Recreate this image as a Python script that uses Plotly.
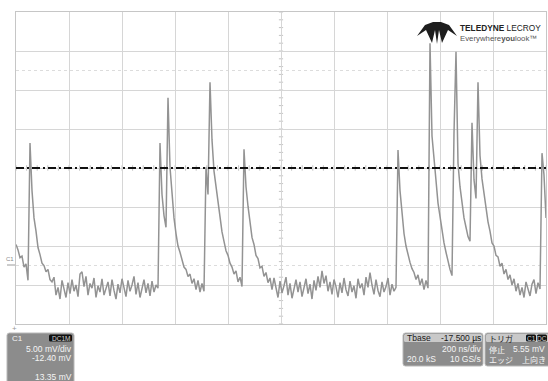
import plotly.graph_objects as go

# ---------------- data ----------------
mv_per_div = 5.00            # vertical scale
offset_mv = -12.40           # channel offset -> screen centre = +12.40 mV
ns_per_div = 200             # horizontal scale
t_start_ns = -1000.0         # left edge of screen (relative to Tbase)
t_stop_ns = 1000.0           # right edge of screen
trigger_line_mv = 12.40      # dash-dot trigger marker drawn at screen centre

# decimated trace samples (mV), evenly spaced from t_start_ns to t_stop_ns
seg_a_mv = [2.6, 1.9, 0.9, 1.1, -0.3, 0.1, -2.0, 15.6, 9.5, 6.0, 4.3, 2.2, 1.3,
            0.2, -0.1, -0.9, -0.6, -1.9, -2.2]
seg_base1_mv = [-1.6, -3.9, -2.9, -4.4, -2.0, -3.1, -4.2, -2.3, -3.7, -1.9,
                -3.4, -2.6, -4.1, -1.2, -0.9, -2.8, -1.5, -3.9, -2.4, -3.0,
                -1.7, -4.2, -2.7, -3.5, -1.8, -3.9, -3.1, -2.2, -4.0, -1.9,
                -3.3, -4.4, -2.5, -3.6, -1.8, -2.9, -4.1, -2.0, -3.4, -2.6,
                -1.5, -3.8, -2.3, -4.2, -3.0, -1.9, -3.6, -2.4, -4.0, -2.1,
                -3.5, -2.6]
seg_b_mv = [-3.0, 15.6, 9.0, 6.3, 4.8, 21.4, 12.5, 8.5, 6.0, 4.0,
            2.4, 1.6, 0.8, -0.3, -0.6, -1.5, -1.2, -2.4, -1.8, -3.2,
            -2.0, -3.5, -2.4, -3.4, 12.5, 9.0, 23.4, 16.0, 12.0, 10.0,
            7.6, 5.8, 4.2, 3.0, 1.8, 1.2, 0.2, -0.3, -1.2, -0.8,
            -2.2, -1.6, -2.8, 14.8, 10.0, 7.5, 5.2, 3.5, 2.6, 1.2,
            0.8, -0.4, -0.2, -1.5, -1.0, -2.3, -1.7]
seg_base2_mv = [-3.2, -1.7, -3.0, -4.2, -2.1, -3.6, -2.7, -1.6, -3.9, -2.4,
                -4.3, -3.1, -1.9, -3.5, -2.2, -4.1, -2.8, -1.8, -3.7, -2.5,
                -4.4, -2.0, -3.3, -1.5, -2.9, -0.8, -2.4, -1.4, -3.4, -2.2,
                -3.8, -1.9, -2.8, -4.2, -2.3, -3.6, -1.7, -3.2, -4.0, -2.1,
                -3.5, -2.7, -4.3, -1.8, -3.0, -2.4, -3.9, -1.6, -2.9, -1.0,
                -2.6, -3.8, -1.9, -3.3, -4.1, -2.2, -3.5, -2.8, -1.7, -3.9,
                -2.5, -3.4, -2.9]
seg_c_mv = [14.7, 9.5, 6.2, 4.0, 2.4, 1.2, 0.3, -0.5, -1.0, -1.9,
            -1.3, -2.6, -1.8, -3.2, -2.0, -3.0, 28.4, 16.5, 13.0, 10.8,
            7.9, 6.0, 4.0, 2.8, 1.6, 0.4, -0.6, -1.4, 16.9, 27.3,
            13.0, 10.0, 7.9, 6.0, 4.8, 3.6, 3.0, 18.2, 10.9, 8.5,
            23.4, 14.0, 11.0, 9.0, 7.0, 5.5, 4.3, 2.8, 2.4, 1.2,
            1.0, -0.2, 0.2, -1.2, -0.6, -1.9, -1.3, -2.6, -1.8, -3.4,
            -2.4, -3.9, -2.9, -4.2, -2.2, -3.1, -4.0, -2.5, -1.9, -3.7,
            -2.3, -3.1, 14.3, 11.5, 6.0]

# info-box texts
ch_label = "C1"
ch_coupling = "DC1M"
ch_scale_txt = "5.00 mV/div"
ch_offset_txt = "-12.40 mV"
ch_meas_txt = "13.35 mV"
tb_label = "Tbase"
tb_delay_txt = "-17.500 µs"
tb_scale_txt = "200 ns/div"
tb_points_txt = "20.0 kS"
tb_rate_txt = "10 GS/s"
trig_label = "トリガ"
trig_src = "C1"
trig_cpl = "DC"
trig_mode = "停止"
trig_level_txt = "5.55 mV"
trig_type = "エッジ"
trig_slope = "上向き"

# ---------------- build ----------------
trace_mv = seg_a_mv + seg_base1_mv + seg_b_mv + seg_base2_mv + seg_c_mv
n = len(trace_mv)
dt = (t_stop_ns - t_start_ns) / (n - 1)
t_ns = [t_start_ns + i * dt for i in range(n)]

centre_mv = -offset_mv
y_lo = centre_mv - 4 * mv_per_div
y_hi = centre_mv + 4 * mv_per_div

W, H = 548, 381
L, R, T, B = 16, 2, 12, 57
PW, PH = W - L - R, H - T - B


def X(px):
    return (px - L) / PW


def Y(py):
    return (H - B - py) / PH


def rrect(x0, y0, x1, y1, r=2.5):
    rx, ry = r, r
    pts = (f"M {X(x0 + rx)},{Y(y0)} L {X(x1 - rx)},{Y(y0)} "
           f"Q {X(x1)},{Y(y0)} {X(x1)},{Y(y0 + ry)} L {X(x1)},{Y(y1 - ry)} "
           f"Q {X(x1)},{Y(y1)} {X(x1 - rx)},{Y(y1)} L {X(x0 + rx)},{Y(y1)} "
           f"Q {X(x0)},{Y(y1)} {X(x0)},{Y(y1 - ry)} L {X(x0)},{Y(y0 + ry)} "
           f"Q {X(x0)},{Y(y0)} {X(x0 + rx)},{Y(y0)} Z")
    return pts


def poly(points):
    s = "M " + " L ".join(f"{X(a)},{Y(b)}" for a, b in points) + " Z"
    return s


fig = go.Figure()
fig.add_trace(go.Scatter(x=t_ns, y=trace_mv, mode="lines",
                         line=dict(color="#939393", width=1.5),
                         hoverinfo="skip", showlegend=False))

shapes = []
# half-division dotted reference lines
for k in (-2.5, 2.5):
    shapes.append(dict(type="line", xref="x", yref="y", x0=t_start_ns, x1=t_stop_ns,
                       y0=centre_mv + k * mv_per_div, y1=centre_mv + k * mv_per_div,
                       line=dict(color="#dcdcdc", width=1, dash="dot"), layer="below"))
# centre-line minor ticks
for k in range(-20, 21):
    yv = centre_mv + k * mv_per_div / 5
    shapes.append(dict(type="line", xref="x", yref="y", x0=-8, x1=8, y0=yv, y1=yv,
                       line=dict(color="#c4c4c4", width=1), layer="below"))
for k in range(-25, 26):
    xv = k * ns_per_div / 5
    shapes.append(dict(type="line", xref="x", yref="y", x0=xv, x1=xv,
                       y0=centre_mv - 0.35, y1=centre_mv + 0.35,
                       line=dict(color="#c4c4c4", width=1), layer="below"))
# trigger marker line
shapes.append(dict(type="line", xref="x", yref="y", x0=t_start_ns, x1=t_stop_ns,
                   y0=trigger_line_mv, y1=trigger_line_mv,
                   line=dict(color="#111111", width=2, dash="8px,3px,2px,3px")))

# ground marker on left
shapes.append(dict(type="line", xref="paper", yref="paper", x0=X(7), x1=X(15),
                   y0=Y(265), y1=Y(265), line=dict(color="#9a9a9a", width=1)))

# logo glyph
logo_pts = [(417, 36), (425, 25), (433, 22), (441, 22), (449, 25), (457, 36),
            (448, 30), (442, 43), (439, 30), (437, 44), (435, 30), (432, 43), (426, 30)]
shapes.append(dict(type="path", xref="paper", yref="paper", path=poly(logo_pts),
                   fillcolor="#1e1e1e", line=dict(width=0)))

# info boxes
GRAY = "#8c8c8c"
LIGHT = "#c9c9c9"
EDGE = "#b8b8b8"
shapes.append(dict(type="path", xref="paper", yref="paper", path=rrect(7, 333, 74, 390),
                   fillcolor=GRAY, line=dict(color=EDGE, width=1)))
shapes.append(dict(type="path", xref="paper", yref="paper", path=rrect(49, 334.5, 72, 341.5, 1.5),
                   fillcolor="#101010", line=dict(width=0)))
shapes.append(dict(type="path", xref="paper", yref="paper", path=rrect(403, 333, 483, 366),
                   fillcolor=GRAY, line=dict(color=EDGE, width=1)))
shapes.append(dict(type="path", xref="paper", yref="paper", path=rrect(404, 334, 482, 342, 1.5),
                   fillcolor=LIGHT, line=dict(width=0)))
shapes.append(dict(type="path", xref="paper", yref="paper", path=rrect(485, 333, 551, 366),
                   fillcolor=GRAY, line=dict(color=EDGE, width=1)))
shapes.append(dict(type="path", xref="paper", yref="paper", path=rrect(486, 334, 550, 342, 1.5),
                   fillcolor=LIGHT, line=dict(width=0)))
shapes.append(dict(type="path", xref="paper", yref="paper", path=rrect(526, 334.5, 536, 341.5, 1.5),
                   fillcolor="#101010", line=dict(width=0)))
shapes.append(dict(type="path", xref="paper", yref="paper", path=rrect(537, 334.5, 547, 341.5, 1.5),
                   fillcolor="#101010", line=dict(width=0)))

SANS = "Liberation Sans, Arial, sans-serif"
CJK = "Noto Sans CJK JP, sans-serif"
ann = []


def txt(s, px, py, anchor="left", size=8.5, color="#f4f4f4", family=SANS):
    ann.append(dict(text=s, x=X(px), y=Y(py), xref="paper", yref="paper",
                    xanchor=anchor, yanchor="middle", showarrow=False,
                    font=dict(size=size, color=color, family=family)))


# left box
txt(ch_label, 10, 338, size=8)
txt(ch_coupling, 60.5, 338, anchor="center", size=6.5, color="#d6d6d6")
txt(ch_scale_txt, 74, 349, anchor="right")
txt(ch_offset_txt, 74, 358, anchor="right")
txt(ch_meas_txt, 74, 377, anchor="right")
# timebase box
txt(tb_label, 405, 338, color="#1a1a1a")
txt(tb_delay_txt, 483, 338, anchor="right", color="#1a1a1a")
txt(tb_scale_txt, 483, 349, anchor="right")
txt(tb_points_txt, 405, 359)
txt(tb_rate_txt, 483, 359, anchor="right")
# trigger box
txt(trig_label, 487, 338, size=8, color="#1a1a1a", family=CJK)
txt(trig_src, 531, 338, anchor="center", size=6.5, color="#d6d6d6")
txt(trig_cpl, 542, 338, anchor="center", size=6.5, color="#d6d6d6")
txt(trig_mode, 487, 349, size=8, family=CJK)
txt(trig_level_txt, 547, 349, anchor="right")
txt(trig_type, 487, 359, size=8, family=CJK)
txt(trig_slope, 548, 359, anchor="right", size=8, family=CJK)
# logo text
txt("<b>TELEDYNE</b> LECROY", 458, 28, size=8.3, color="#222222")
txt("Everywhere<b>you</b>look™", 458, 38, size=7.8, color="#555555")
# channel & time markers
txt(ch_label, 4, 259, size=6, color="#8a8a8a")
txt("+", 10, 328, size=8, color="#9a9a9a")

fig.update_layout(
    width=W, height=H,
    margin=dict(l=L, r=R, t=T, b=B, pad=0),
    paper_bgcolor="white", plot_bgcolor="white",
    xaxis=dict(range=[t_start_ns, t_stop_ns], tick0=0, dtick=ns_per_div,
               showgrid=True, gridcolor="#d6d6d6", gridwidth=1, zeroline=False,
               showticklabels=False, ticks="", showline=True, mirror=True,
               linecolor="#c6c6c6", linewidth=1, fixedrange=True),
    yaxis=dict(range=[y_lo, y_hi], tick0=centre_mv, dtick=mv_per_div,
               showgrid=True, gridcolor="#d6d6d6", gridwidth=1, zeroline=False,
               showticklabels=False, ticks="", showline=True, mirror=True,
               linecolor="#c6c6c6", linewidth=1, fixedrange=True),
    shapes=shapes, annotations=ann, showlegend=False,
)

fig.write_html("out.html", config={"displayModeBar": False},
               post_script="document.body.style.margin='0';document.body.style.padding='0';document.body.style.overflow='hidden';")
